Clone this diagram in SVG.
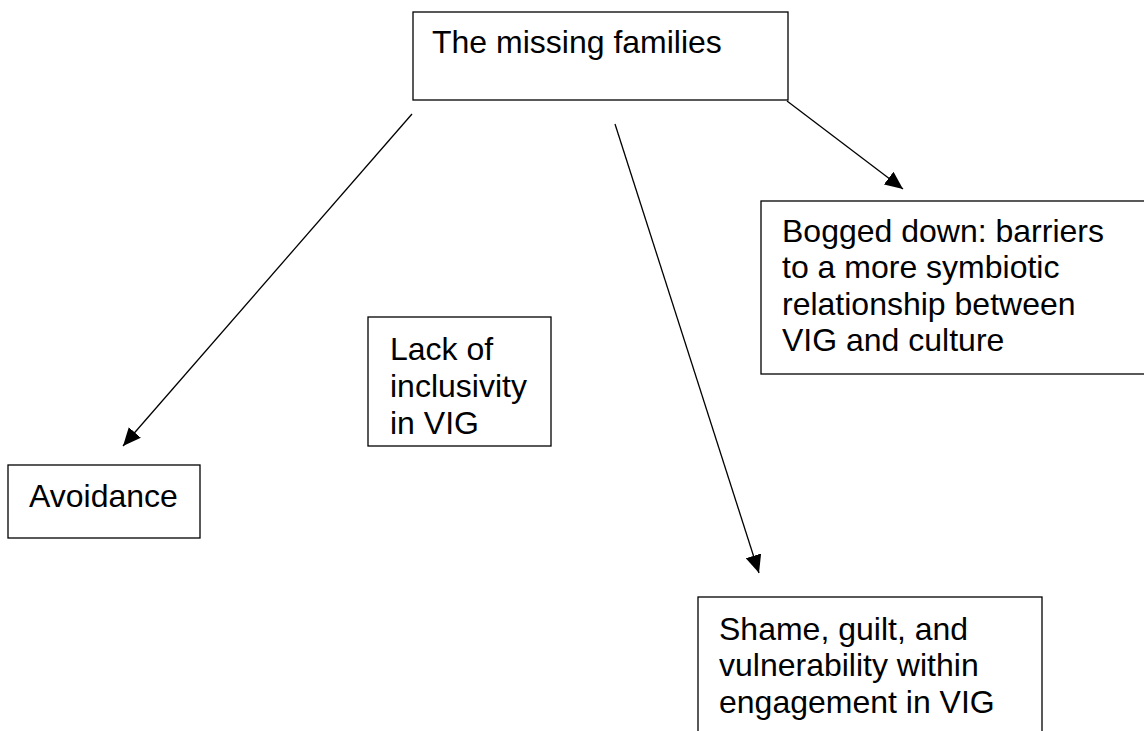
<svg xmlns="http://www.w3.org/2000/svg" width="1144" height="731" viewBox="0 0 1144 731">
<style>
.box{fill:#fff;stroke:#000;stroke-width:1.3}
.t{font-family:"Liberation Sans",Arial,sans-serif;font-size:32px;fill:#000}
.c{stroke:#000;stroke-width:1.3;fill:none;marker-end:url(#ah)}
</style>
<defs>
<marker id="ah" markerUnits="userSpaceOnUse" markerWidth="20" markerHeight="16" refX="18" refY="8" orient="auto">
<path d="M0,0 L18,8 L0,16 Z" fill="#000"/>
</marker>
</defs>
<rect width="1144" height="731" fill="#fff"/>
<g id="connectors">
<line class="c" x1="412" y1="114" x2="123" y2="446"/>
<line class="c" x1="615" y1="124" x2="759" y2="573"/>
<line class="c" x1="787" y1="101" x2="903" y2="189"/>
</g>
<g id="n-missing">
<rect class="box" x="413" y="12" width="375" height="88"/>
<text class="t" x="432" y="53">The missing families</text>
</g>
<g id="n-bogged">
<rect class="box" x="761" y="201" width="400" height="173"/>
<text class="t" x="782" y="242">Bogged down: barriers</text>
<text class="t" x="782" y="278">to a more symbiotic</text>
<text class="t" x="782" y="315">relationship between</text>
<text class="t" x="782" y="351">VIG and culture</text>
</g>
<g id="n-lack">
<rect class="box" x="368" y="317" width="183" height="129"/>
<text class="t" x="390" y="360">Lack of</text>
<text class="t" x="390" y="397">inclusivity</text>
<text class="t" x="390" y="434">in VIG</text>
</g>
<g id="n-avoidance">
<rect class="box" x="8" y="465" width="192" height="73"/>
<text class="t" x="29" y="507">Avoidance</text>
</g>
<g id="n-shame">
<rect class="box" x="698" y="597" width="344" height="160"/>
<text class="t" x="719" y="640">Shame, guilt, and</text>
<text class="t" x="719" y="676">vulnerability within</text>
<text class="t" x="719" y="713">engagement in VIG</text>
</g>
</svg>
